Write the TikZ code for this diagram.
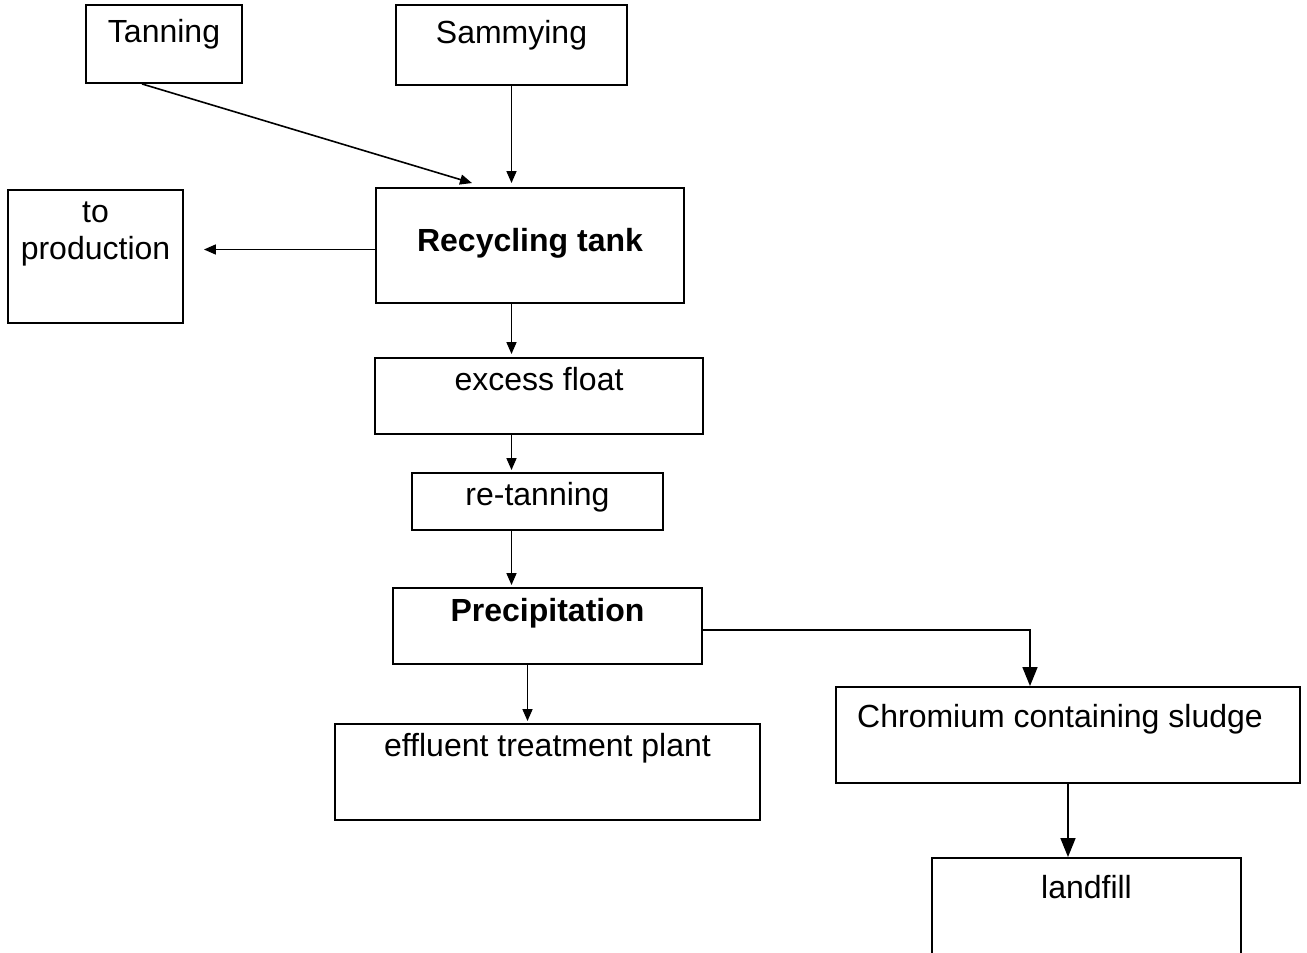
\documentclass[tikz,border=0pt]{standalone}
\usepackage{fontspec}
\setmainfont{Liberation Sans}[Ligatures=NoCommon]
\usetikzlibrary{arrows.meta,calc}
\begin{document}
\begin{tikzpicture}[x=1pt,y=-1pt,
  box/.style={draw, line width=1.9pt, rectangle, inner sep=0pt},
  txt/.style={anchor=base, inner sep=0pt, align=center,
    font=\fontsize{32}{37}\selectfont},
  btxt/.style={txt, font=\fontsize{32}{37}\selectfont\bfseries},
  flow/.style={line width=1.6pt, -{Triangle[length=12pt,width=10pt]}},
  bigflow/.style={line width=1.6pt, -{Triangle[length=19pt,width=15pt]}}]

  \clip (0,0) rectangle (1307,953);

  % process boxes
  \node[box, minimum width=156, minimum height=78]  (tan)  at (164,44)    {};
  \node[box, minimum width=231, minimum height=80]  (sam)  at (511.5,45)  {};
  \node[box, minimum width=175, minimum height=133] (prod) at (95.5,256.5) {};
  \node[box, minimum width=308, minimum height=115] (rec)  at (530,245.5) {};
  \node[box, minimum width=328, minimum height=76]  (exc)  at (539,396)   {};
  \node[box, minimum width=251, minimum height=57]  (ret)  at (537.5,501.5) {};
  \node[box, minimum width=309, minimum height=76]  (pre)  at (547.5,626) {};
  \node[box, minimum width=425, minimum height=96]  (eff)  at (547.5,772) {};
  \node[box, minimum width=464, minimum height=96]  (chr)  at (1068,735)  {};
  \node[box, minimum width=309, minimum height=120] (land) at (1086.5,918) {};

  % box labels, set near the top of each box
  \node[txt]  (tan-t)  at ($(tan.north)+(0,38)$)   {Tanning};
  \node[txt]  (sam-t)  at ($(sam.north)+(0,39)$)   {Sammying};
  \node[txt]  (prod-t) at ($(prod.north)+(0,70)$)  {to\\production};
  \node[btxt] (rec-t)  at ($(rec.north)+(0,64)$)   {Recycling tank};
  \node[txt]  (exc-t)  at ($(exc.north)+(0,33)$)   {excess float};
  \node[txt]  (ret-t)  at ($(ret.north)+(0,33)$)   {re-tanning};
  \node[btxt] (pre-t)  at ($(pre.north)+(0,34)$)   {Precipitation};
  \node[txt]  (eff-t)  at ($(eff.north)+(0,33)$)   {effluent treatment plant};
  \node[txt]  (chr-t)  at ($(chr.north)+(-8,41)$)  {Chromium containing sludge};
  \node[txt]  (land-t) at ($(land.north)+(0,41)$)  {landfill};

  % flow connections
  \draw[flow] ($(tan.south)+(-22,0)$) -- ($(rec.north)+(-58,-4)$);
  \draw[flow] (sam.south) -- ($(rec.north -| sam.south)+(0,-4)$);
  \draw[flow, shorten >=20pt] ($(rec.west)+(0,4)$) -- ($(prod.east |- rec.west)+(0,4)$);
  \draw[flow] (rec.south -| sam.south) -- ($(exc.north -| sam.south)+(0,-3)$);
  \draw[flow] (exc.south -| sam.south) -- ($(ret.north -| sam.south)+(0,-2)$);
  \draw[flow] (ret.south -| sam.south) -- ($(pre.north -| sam.south)+(0,-2)$);
  \draw[flow] ($(pre.south)+(-20,0)$) -- ($(eff.north)+(-20,-2)$);
  \draw[bigflow] ($(pre.east)+(0,4)$) -| ($(chr.north)+(-38,0)$);
  \draw[bigflow] (chr.south) -- (land.north -| chr.south);
\end{tikzpicture}
\end{document}
